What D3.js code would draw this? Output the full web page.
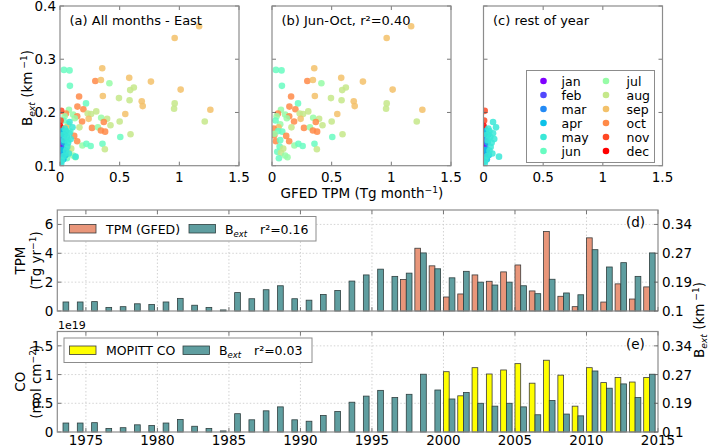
<!DOCTYPE html>
<html>
<head>
<meta charset="utf-8">
<script src="https://cdn.jsdelivr.net/npm/d3@7"></script>
<style>
	body { margin: 0; background: #fff; }
	svg text { font-family: "DejaVu Sans", sans-serif; fill: #000; }
</style>
</head>
<body>
<svg id="chart" width="709" height="447"></svg>
<script>
/* global d3 */
'use strict';

//////////////////////////////////////////////////
// Data.
//////////////////////////////////////////////////

var monthNames = ["jan", "feb", "mar", "apr", "may", "jun", "jul", "aug", "sep", "oct", "nov", "dec"];
var monthColors = ["#8000ff", "#5148fc", "#238af5", "#0cc1e8", "#3ae8d7", "#68fcc1",
	"#97fca7", "#c5e88a", "#f3c16a", "#ff8a48", "#ff4824", "#ff0000"];

// Jun-Oct monthly points: [month index, GFED TPM (Tg/month), Bext (km-1)]
var summerPoints = [
	[8, 1.166, 0.362], [8, 0.961, 0.340], [5, 0.033, 0.280], [5, 0.080, 0.279], [5, 0.083, 0.250],
	[8, 0.354, 0.283], [9, 0.296, 0.259], [8, 0.343, 0.261], [6, 0.414, 0.255], [8, 0.580, 0.265],
	[7, 0.619, 0.247], [7, 0.588, 0.242], [8, 0.762, 0.258], [8, 1.011, 0.243], [9, 0.160, 0.230],
	[8, 0.359, 0.231], [7, 0.494, 0.227], [7, 0.583, 0.223], [8, 0.685, 0.221], [8, 0.693, 0.212],
	[7, 0.961, 0.217], [7, 0.956, 0.207], [8, 1.260, 0.205], [7, 1.213, 0.183], [5, 0.218, 0.217],
	[9, 0.146, 0.211], [9, 0.196, 0.206], [6, 0.075, 0.205], [9, 0.050, 0.198], [6, 0.039, 0.193],
	[6, 0.110, 0.196], [9, 0.144, 0.193], [7, 0.232, 0.198], [7, 0.260, 0.197], [7, 0.304, 0.202],
	[8, 0.240, 0.188], [9, 0.185, 0.183], [6, 0.124, 0.189], [6, 0.345, 0.190], [7, 0.395, 0.188],
	[9, 0.367, 0.182], [8, 0.547, 0.197], [7, 0.500, 0.183], [6, 0.069, 0.178], [8, 0.055, 0.172],
	[9, 0.014, 0.170], [7, 0.163, 0.172], [9, 0.268, 0.171], [6, 0.318, 0.172], [7, 0.423, 0.176],
	[9, 0.343, 0.166], [9, 0.378, 0.164], [5, 0.052, 0.165], [5, 0.086, 0.164], [9, 0.019, 0.157],
	[9, 0.119, 0.156], [9, 0.033, 0.146], [5, 0.069, 0.148], [9, 0.144, 0.146], [6, 0.188, 0.138],
	[5, 0.221, 0.141], [5, 0.257, 0.137], [5, 0.356, 0.141], [7, 0.376, 0.131], [5, 0.505, 0.154],
	[7, 0.591, 0.159], [5, 0.064, 0.136], [7, 0.094, 0.132], [5, 0.044, 0.126], [7, 0.075, 0.124],
	[6, 0.110, 0.119], [6, 0.130, 0.116], [5, 0.058, 0.114], [5, 0.030, 0.185], [6, 0.020, 0.160]
];

// Rest of year monthly points.
var restPoints = [
	[10, 0.010, 0.203], [10, 0.010, 0.170], [10, 0.005, 0.185], [10, 0.020, 0.160],
	[11, 0.010, 0.142], [11, 0.005, 0.155], [11, 0.000, 0.175],
	[0, 0.014, 0.136], [0, 0.005, 0.150], [0, 0.010, 0.125], [0, 0.000, 0.140],
	[1, 0.020, 0.148], [1, 0.023, 0.126], [1, 0.005, 0.160], [1, 0.010, 0.118],
	[2, 0.010, 0.120], [2, 0.020, 0.165], [2, 0.012, 0.155], [2, 0.030, 0.130], [2, 0.005, 0.108],
	[3, 0.014, 0.164], [3, 0.034, 0.143], [3, 0.028, 0.112], [3, 0.040, 0.158], [3, 0.020, 0.130],
	[3, 0.045, 0.120],
	[4, 0.080, 0.182], [4, 0.105, 0.172], [4, 0.050, 0.165], [4, 0.080, 0.161], [4, 0.130, 0.117],
	[4, 0.028, 0.158], [4, 0.057, 0.154], [4, 0.068, 0.143], [4, 0.050, 0.128], [4, 0.074, 0.123],
	[4, 0.010, 0.104], [4, 0.040, 0.170], [4, 0.060, 0.135], [4, 0.035, 0.148], [4, 0.090, 0.150],
	[4, 0.030, 0.118], [4, 0.015, 0.110]
];

var scatterTicksX = [0, 0.5, 1, 1.5];
var scatterTicksY = [0.1, 0.2, 0.3, 0.4];
var scatterTitles = ["(a) All months - East", "(b) Jun-Oct, r\u00b2=0.40", "(c) rest of year"];

// Annual series.
var bextYears = [1973, 1974, 1975, 1976, 1977, 1978, 1979, 1980, 1981, 1982, 1983, 1984, 1985, 1986,
	1987, 1988, 1989, 1990, 1991, 1992, 1993, 1994, 1995, 1996, 1997, 1998, 1999, 2000,
	2001, 2002, 2003, 2004, 2005, 2006, 2007, 2008, 2009, 2010, 2011, 2012, 2013, 2014];
var bextValues = [0.125, 0.125, 0.126, 0.110, 0.112, 0.120, 0.118, 0.125, 0.135, 0.116, 0.110, 0.103,
	0.151, 0.134, 0.159, 0.170, 0.134, 0.130, 0.146, 0.157, 0.183, 0.200, 0.216, 0.196, 0.205,
	0.261, 0.217, 0.192, 0.210, 0.180, 0.172, 0.180, 0.170, 0.148, 0.188, 0.150, 0.145, 0.270,
	0.222, 0.234, 0.196, 0.261];

var tpmYears = [1997, 1998, 1999, 2000, 2001, 2002, 2003, 2004, 2005, 2006, 2007, 2008, 2009, 2010,
	2011, 2012, 2013, 2014];
var tpmValues = [2.18, 4.35, 3.13, 0.97, 1.18, 2.50, 2.06, 2.71, 3.19, 1.39, 5.51, 1.02, 0.30, 5.07,
	0.62, 1.88, 0.83, 1.67];

var coYears = [2000, 2001, 2002, 2003, 2004, 2005, 2006, 2007, 2008, 2009, 2010, 2011, 2012, 2013, 2014];
var coValues = [1.05, 0.63, 1.12, 1.01, 1.08, 1.19, 0.85, 1.25, 0.99, 0.45, 1.12, 0.86, 0.95, 0.87, 0.95];

var yearTicks = [1975, 1980, 1985, 1990, 1995, 2000, 2005, 2010, 2015];
var tpmTicks = [0, 2, 4, 6];
var coTicks = [0, 0.5, 1, 1.5];
var bextTicks = [0.1, 0.18, 0.26, 0.34];
var bextTickLabels = ["0.1", "0.19", "0.27", "0.34"];

//////////////////////////////////////////////////
// Common settings.
//////////////////////////////////////////////////

var svg = d3.select("#chart");
var frameColor = "#8c8c8c";
var fontSize = 13.5;
var tickLen = 4;

/**
 * Writes B_ext (optionally with a unit) into a text element using tspans.
 */
function writeBext(text, withUnit) {
	text.append("tspan").text("B");
	text.append("tspan").attr("font-size", "68%").attr("font-style", "italic").attr("dy", 3).text("ext");
	if (withUnit) {
		text.append("tspan").attr("dy", -3).text(" (km");
		text.append("tspan").attr("font-size", "68%").attr("dy", -5).text(" \u22121");
		text.append("tspan").attr("dy", 5).text(")");
	}
}

/**
 * Draws a frame with inward ticks on all sides.
 */
function drawFrame(g, x, y, xTicks, yTicks, yTicksRight) {
	var x0 = x.range()[0], x1 = x.range()[1];
	var y0 = y.range()[0], y1 = y.range()[1];
	var t = g.append("g").attr("stroke", "#555").attr("stroke-width", 0.8);
	xTicks.forEach(function(v) {
		t.append("line").attr("x1", x(v)).attr("x2", x(v)).attr("y1", y0).attr("y2", y0 - tickLen);
		t.append("line").attr("x1", x(v)).attr("x2", x(v)).attr("y1", y1).attr("y2", y1 + tickLen);
	});
	yTicks.forEach(function(v) {
		t.append("line").attr("x1", x0).attr("x2", x0 + tickLen).attr("y1", y(v)).attr("y2", y(v));
		if (!yTicksRight) {
			t.append("line").attr("x1", x1).attr("x2", x1 - tickLen).attr("y1", y(v)).attr("y2", y(v));
		}
	});
	g.append("rect")
			.attr("x", x0).attr("y", y1)
			.attr("width", x1 - x0).attr("height", y0 - y1)
			.attr("fill", "none")
			.attr("stroke", frameColor)
			.attr("stroke-width", 1.2);
}

//////////////////////////////////////////////////
// Scatter panels (a), (b), (c).
//////////////////////////////////////////////////

var scatterLeft = [60, 272, 483.5];
var scatterWidth = 179;
var scatterTop = 6, scatterBottom = 165.7;
var scatterSets = [summerPoints.concat(restPoints), summerPoints, restPoints];

scatterLeft.forEach(function(left, i) {
	var x = d3.scaleLinear().domain([0, 1.5]).range([left, left + scatterWidth]);
	var y = d3.scaleLinear().domain([0.1, 0.4]).range([scatterBottom, scatterTop]);
	var g = svg.append("g");

	g.append("clipPath").attr("id", "clip" + i)
			.append("rect")
			.attr("x", left).attr("y", scatterTop)
			.attr("width", scatterWidth).attr("height", scatterBottom - scatterTop);

	g.append("g").attr("clip-path", "url(#clip" + i + ")")
			.selectAll("circle").data(scatterSets[i])
			.enter().append("circle")
			.attr("cx", function(d) { return x(d[1]); })
			.attr("cy", function(d) { return y(d[2]); })
			.attr("r", 3.3)
			.attr("fill", function(d) { return monthColors[d[0]]; })
			.attr("fill-opacity", 0.85);

	drawFrame(g, x, y, scatterTicksX, scatterTicksY, false);

	// Tick labels.
	g.selectAll(".xl").data(scatterTicksX).enter().append("text")
			.attr("x", function(d) { return x(d); })
			.attr("y", scatterBottom + 16)
			.attr("text-anchor", "middle")
			.attr("font-size", fontSize)
			.text(function(d) { return String(d); });
	if (i === 0) {
		g.selectAll(".yl").data(scatterTicksY).enter().append("text")
				.attr("x", left - 4)
				.attr("y", function(d) { return Math.max(y(d) + 5, 11); })
				.attr("text-anchor", "end")
				.attr("font-size", fontSize)
				.text(function(d) { return String(d); });
		var yl = g.append("text")
				.attr("transform", "translate(32," + 88 + ") rotate(-90)")
				.attr("text-anchor", "middle")
				.attr("font-size", fontSize);
		writeBext(yl, true);
	}

	g.append("text")
			.attr("x", left + 9.5)
			.attr("y", scatterTop + 19)
			.attr("font-size", 13)
			.text(scatterTitles[i]);
});

// Axis label for the scatter row.
var sx = svg.append("text")
		.attr("x", 362)
		.attr("y", 197.5)
		.attr("text-anchor", "middle")
		.attr("font-size", fontSize);
sx.append("tspan").text("GFED TPM (Tg month");
sx.append("tspan").attr("font-size", "68%").attr("dy", -5).text("\u22121");
sx.append("tspan").attr("dy", 5).text(")");

// Month legend in panel (c).
var leg = svg.append("g");
leg.append("rect")
		.attr("x", 526.5).attr("y", 70.5)
		.attr("width", 128).attr("height", 92)
		.attr("fill", "#fff")
		.attr("stroke", frameColor)
		.attr("stroke-width", 1);
monthNames.forEach(function(name, m) {
	var col = Math.floor(m / 6), row = m % 6;
	var cx = 543.5 + col * 62.5;
	var cy = 81 + row * 14;
	leg.append("circle").attr("cx", cx).attr("cy", cy).attr("r", 3.3).attr("fill", monthColors[m]);
	leg.append("text")
			.attr("x", cx + 18 + col * 2.5)
			.attr("y", cy + 4.5)
			.attr("font-size", 12.5)
			.text(name);
});

//////////////////////////////////////////////////
// Annual bar panels (d) and (e).
//////////////////////////////////////////////////

var xYear = d3.scaleLinear().domain([1973, 2015]).range([57.3, 658]);
var barW = 0.4;

/**
 * Draws one bar panel with a left-axis series and the Bext series on the right axis.
 */
function drawBarPanel(opts) {
	var g = svg.append("g");
	var yL = d3.scaleLinear().domain([0, opts.yMax]).range([opts.bottom, opts.top]);
	var yR = d3.scaleLinear().domain([0.1, 0.38]).range([opts.bottom, opts.top]);

	// Dotted grid.
	var grid = g.append("g").attr("stroke", "#c8c8c8").attr("stroke-width", 0.8).attr("stroke-dasharray", "1.5,2");
	yearTicks.slice(0, -1).forEach(function(v) {
		grid.append("line").attr("x1", xYear(v)).attr("x2", xYear(v)).attr("y1", opts.top).attr("y2", opts.bottom);
	});
	opts.ticks.slice(1).forEach(function(v) {
		grid.append("line").attr("x1", xYear.range()[0]).attr("x2", xYear.range()[1]).attr("y1", yL(v)).attr("y2", yL(v));
	});

	// Left series bars.
	g.selectAll(".lbar").data(opts.years).enter().append("rect")
			.attr("x", function(d) { return xYear(d); })
			.attr("width", xYear(1973 + barW) - xYear(1973))
			.attr("y", function(d, i) { return yL(opts.values[i]); })
			.attr("height", function(d, i) { return opts.bottom - yL(opts.values[i]); })
			.attr("fill", opts.color)
			.attr("stroke", "#3a3a3a")
			.attr("stroke-width", 0.8);

	// Bext bars.
	g.selectAll(".bbar").data(bextYears).enter().append("rect")
			.attr("x", function(d) { return xYear(d + barW); })
			.attr("width", xYear(1973 + barW) - xYear(1973))
			.attr("y", function(d, i) { return yR(bextValues[i]); })
			.attr("height", function(d, i) { return opts.bottom - yR(bextValues[i]); })
			.attr("fill", "#5f9ea0")
			.attr("stroke", "#2f3f3f")
			.attr("stroke-width", 0.8);

	drawFrame(g, xYear, yL, yearTicks, opts.ticks, true);
	var t = g.append("g").attr("stroke", "#555").attr("stroke-width", 0.8);
	bextTicks.forEach(function(v) {
		t.append("line").attr("x1", xYear.range()[1]).attr("x2", xYear.range()[1] - tickLen).attr("y1", yR(v)).attr("y2", yR(v));
	});

	// Tick labels.
	g.selectAll(".yl").data(opts.ticks).enter().append("text")
			.attr("x", xYear.range()[0] - 4)
			.attr("y", function(d) { return yL(d) + 5; })
			.attr("text-anchor", "end")
			.attr("font-size", fontSize)
			.text(function(d) { return String(d); });
	g.selectAll(".yr").data(bextTicks).enter().append("text")
			.attr("x", xYear.range()[1] + 4)
			.attr("y", function(d) { return yR(d) + 5; })
			.attr("font-size", fontSize)
			.text(function(d, i) { return bextTickLabels[i]; });

	// Panel letter.
	g.append("text")
			.attr("x", xYear.range()[1] - 32)
			.attr("y", opts.top + 17)
			.attr("font-size", fontSize)
			.text(opts.letter);

	// Left label (two lines).
	var lab = g.append("text")
			.attr("transform", "translate(25," + ((opts.top + opts.bottom) / 2) + ") rotate(-90)")
			.attr("text-anchor", "middle")
			.attr("font-size", fontSize);
	lab.append("tspan").attr("x", 0).attr("dy", 0).text(opts.label1);
	var l2 = g.append("text")
			.attr("transform", "translate(41," + ((opts.top + opts.bottom) / 2) + ") rotate(-90)")
			.attr("text-anchor", "middle")
			.attr("font-size", fontSize);
	l2.append("tspan").text(opts.label2);
	l2.append("tspan").attr("font-size", "68%").attr("dy", -5).text(opts.labelExp);
	l2.append("tspan").attr("dy", 5).text(")");

	// Legend.
	var lg = g.append("g");
	lg.append("rect")
			.attr("x", 64).attr("y", opts.top + 6.5)
			.attr("width", opts.legendW).attr("height", 24.5)
			.attr("fill", "#fff")
			.attr("stroke", frameColor);
	lg.append("rect")
			.attr("x", 69.5).attr("y", opts.top + 14.5)
			.attr("width", 26.5).attr("height", 8.5)
			.attr("fill", opts.color).attr("stroke", "#3a3a3a").attr("stroke-width", 0.8);
	lg.append("text").attr("x", 106).attr("y", opts.top + 23.5).attr("font-size", 12.5).text(opts.name);
	lg.append("rect")
			.attr("x", opts.bextPatchX).attr("y", opts.top + 14.5)
			.attr("width", 26.5).attr("height", 8.5)
			.attr("fill", "#5f9ea0").attr("stroke", "#2f3f3f").attr("stroke-width", 0.8);
	var bt = lg.append("text").attr("x", opts.bextPatchX + 36).attr("y", opts.top + 23.5).attr("font-size", 12.5);
	writeBext(bt, false);
	lg.append("text").attr("x", opts.bextPatchX + 71).attr("y", opts.top + 23.5).attr("font-size", 12.5)
			.text("r\u00b2=" + opts.r2);
	return g;
}

drawBarPanel({
	top: 210, bottom: 311, yMax: 7, ticks: tpmTicks,
	years: tpmYears, values: tpmValues, color: "#e9967a",
	letter: "(d)", label1: "TPM", label2: "(Tg yr", labelExp: "\u22121",
	name: "TPM (GFED)", legendW: 252, bextPatchX: 189, r2: "0.16"
});

var gE = drawBarPanel({
	top: 331.5, bottom: 432, yMax: 1.75, ticks: coTicks,
	years: coYears, values: coValues, color: "#ffff00",
	letter: "(e)", label1: "CO", label2: "(mol cm", labelExp: "\u22122",
	name: "MOPITT CO", legendW: 248, bextPatchX: 183, r2: "0.03"
});

// Offset text above panel (e).
gE.append("text").attr("x", 58).attr("y", 329).attr("font-size", 11).text("1e19");

// Year labels.
svg.selectAll(".year").data(yearTicks).enter().append("text")
		.attr("x", function(d) { return xYear(d); })
		.attr("y", 445)
		.attr("text-anchor", "middle")
		.attr("font-size", fontSize)
		.text(function(d) { return String(d); });

// Shared right label.
var rl = svg.append("text")
		.attr("transform", "translate(704,320) rotate(-90)")
		.attr("text-anchor", "middle")
		.attr("font-size", fontSize);
writeBext(rl, true);
</script>
</body>
</html>
